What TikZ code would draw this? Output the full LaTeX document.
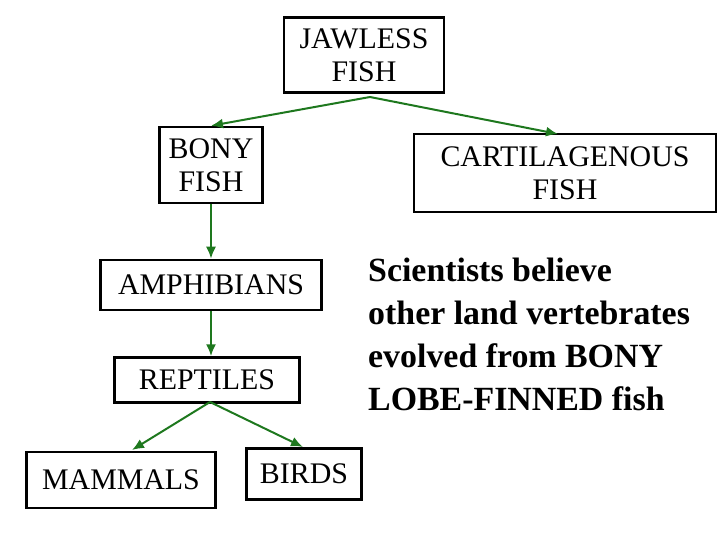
\documentclass[tikz,border=0pt]{standalone}
\usepackage{fontspec}
\setmainfont{Liberation Serif}
\usetikzlibrary{arrows.meta}
\definecolor{arrowgreen}{RGB}{30,120,30}

\begin{document}
\begin{tikzpicture}[x=1bp, y=-1bp,
  box/.style = {draw, line width=2.5bp, align=center, inner sep=0pt, font=\fontsize{30}{33}\selectfont},
  link/.style = {arrowgreen, line width=2bp, -{Latex[length=12bp, width=10bp]}}]
\useasboundingbox (0,0) rectangle (720,540);
\node[box, minimum width=160bp, minimum height=75bp] (jawless) at (364,55) {JAWLESS\\FISH};
\node[box, minimum width=103bp, minimum height=76bp] (bony) at (211,165) {BONY\\FISH};
\node[box, minimum width=302bp, minimum height=78bp] (cartilage) at (565,173) {CARTILAGENOUS\\FISH};
\node[box, minimum width=221bp, minimum height=50bp] (amphibians) at (211,285) {AMPHIBIANS};
\node[box, minimum width=185bp, minimum height=45bp] (reptiles) at (207,380) {REPTILES};
\node[box, minimum width=189bp, minimum height=56bp] (mammals) at (121,480) {MAMMALS};
\node[box, minimum width=115bp, minimum height=51bp] (birds) at (304,474) {BIRDS};
\coordinate (split) at (370,97);
\coordinate (fork) at (210,402);
\coordinate (cartend) at (558,134);
\coordinate (mamend) at (132,450);
\coordinate (birdend) at (303,447);
\draw[link] (split) -- (bony.north);
\draw[link] (split) -- (cartend);
\draw[link] (bony.south) -- (bony.south |- amphibians.north);
\draw[link] (amphibians.south -| bony.south) -- (bony.south |- reptiles.north);
\draw[link] (fork) -- (mamend);
\draw[link] (fork) -- (birdend);
\node[anchor=north west, align=left, inner sep=0pt, font=\bfseries\fontsize{34}{43}\selectfont] (note) at (368,258)
  {Scientists believe\\other land vertebrates\\evolved from BONY\\LOBE-FINNED fish};
\end{tikzpicture}
\end{document}
